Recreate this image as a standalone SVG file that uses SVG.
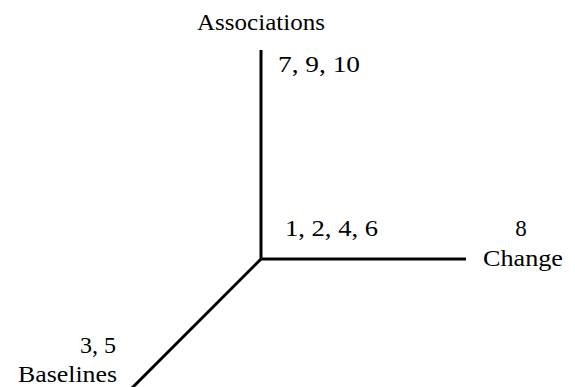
<svg xmlns="http://www.w3.org/2000/svg" width="575" height="387" viewBox="0 0 575 387">
<style>
text{font-family:"Liberation Serif","Times New Roman",serif;font-size:23px;fill:#000}
.ax{stroke:#000;stroke-width:3;fill:none}
</style>
<rect width="575" height="387" fill="#fff"/>
<g id="connectors">
<line class="ax" x1="261" y1="50" x2="261" y2="260"/>
<line class="ax" x1="260" y1="259" x2="466" y2="259"/>
<line class="ax" x1="261" y1="259" x2="132" y2="388"/>
</g>
<g id="associations"><text x="197" y="30" textLength="128" lengthAdjust="spacingAndGlyphs">Associations</text><text x="278" y="72" textLength="82" lengthAdjust="spacingAndGlyphs">7, 9, 10</text></g>
<g id="origin"><text x="285" y="236" textLength="93" lengthAdjust="spacingAndGlyphs">1, 2, 4, 6</text></g>
<g id="change"><text x="521" y="236" text-anchor="middle">8</text><text x="483" y="266" textLength="80" lengthAdjust="spacingAndGlyphs">Change</text></g>
<g id="baselines"><text x="80" y="353" textLength="36" lengthAdjust="spacingAndGlyphs">3, 5</text><text x="18" y="382" textLength="99" lengthAdjust="spacingAndGlyphs">Baselines</text></g>
</svg>
